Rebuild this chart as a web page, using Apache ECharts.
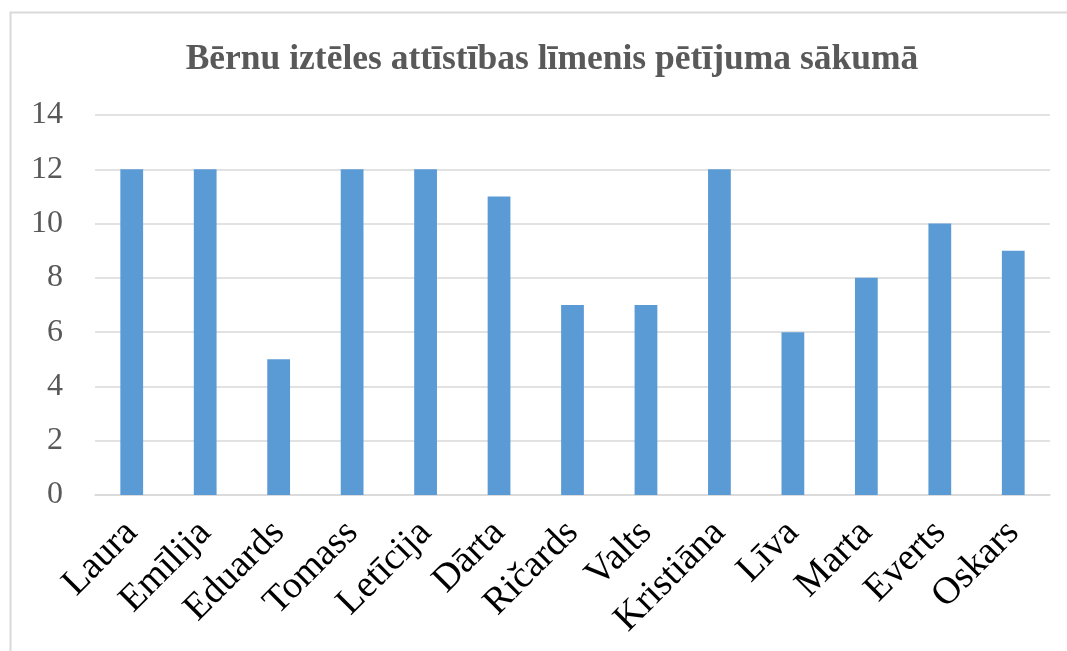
<!DOCTYPE html>
<html><head><meta charset="utf-8">
<script src="https://cdn.jsdelivr.net/npm/echarts@6/dist/echarts.min.js"></script>
<style>html,body{margin:0;padding:0;background:#fff}#c{width:1067px;height:651px}</style>
</head><body><div id="c"></div>
<script>
const titleText = 'Bērnu iztēles attīstības līmenis pētījuma sākumā';
const categories = ['Laura','Emīlija','Eduards','Tomass','Letīcija','Dārta','Ričards','Valts','Kristiāna','Līva','Marta','Everts','Oskars'];
const values = [12,12,5,12,12,11,7,7,12,6,8,10,9];
const yMin = 0, yMax = 14, yStep = 2;

const chart = echarts.init(document.getElementById('c'), null, {renderer:'canvas'});
chart.setOption({
  animation:false,
  backgroundColor:'#fff',
  graphic:[{type:'rect',shape:{x:10.5,y:12.5,width:1100,height:700},style:{fill:'none',stroke:'#d9d9d9',lineWidth:2},z:-1}],
  title:{text:titleText,left:547,textAlign:'center',top:37,textStyle:{fontFamily:'Liberation Serif',fontWeight:'bold',fontSize:35.5,color:'#595959'}},
  grid:{left:95,right:17,top:115,bottom:156,containLabel:false},
  xAxis:{type:'category',data:categories,
    axisLine:{lineStyle:{color:'#d9d9d9',width:1.5}},axisTick:{show:false},
    axisLabel:{rotate:45,interval:0,margin:32,fontFamily:'Liberation Serif',fontSize:38,color:'#000'}},
  yAxis:{type:'value',min:yMin,max:yMax,interval:yStep,
    axisLine:{show:false},axisTick:{show:false},
    splitLine:{lineStyle:{color:'#d9d9d9',width:1.5}},
    axisLabel:{margin:32,fontFamily:'Liberation Serif',fontSize:32,color:'#595959'}},
  series:[{type:'bar',data:values,barWidth:'31%',itemStyle:{color:'#5b9bd5'}}]
});
</script></body></html>
